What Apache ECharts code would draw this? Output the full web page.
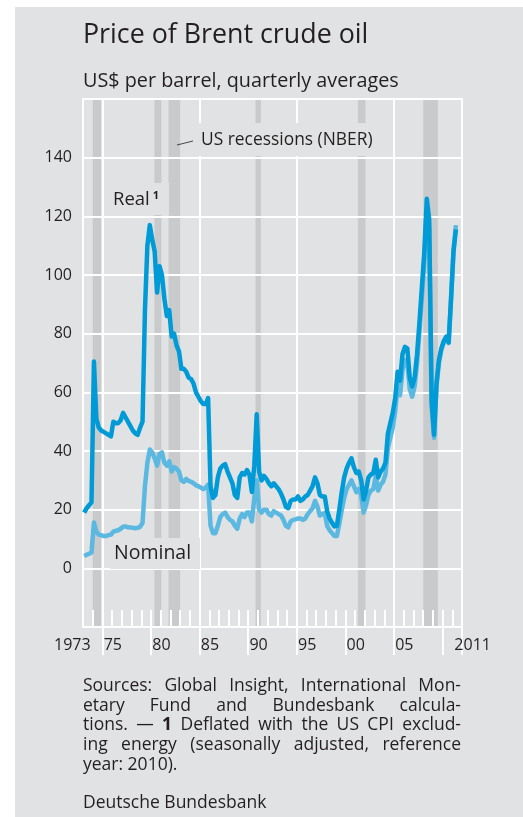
<!DOCTYPE html>
<html>
<head>
<meta charset="utf-8">
<script src="https://cdn.jsdelivr.net/npm/echarts@6/dist/echarts.min.js"></script>
<style>
  html, body { margin: 0; padding: 0; background: #fff; }
  #main { width: 523px; height: 817px; }
</style>
</head>
<body>
<div id="main"></div>
<script>
// quarterly averages, 1973 Q1 .. 2011 Q2
var startYear = 1973;

var realPrice = [
  19, 20.5, 21.5, 22.5,      // 1973
  70.5, 51, 48, 47,          // 1974
  46.5, 46, 45.5, 45,        // 1975
  50, 49.5, 49.5, 50.5,      // 1976
  53, 51.5, 50, 48.5,        // 1977
  47, 46, 45.5, 48,          // 1978
  50, 88, 110, 117,          // 1979
  112, 108, 94, 103,         // 1980
  100, 92, 86, 88,           // 1981
  79, 80, 76, 74,            // 1982
  68, 68, 67, 65,            // 1983
  64.5, 63, 60, 58.5,        // 1984
  57, 56, 56, 58,            // 1985
  28, 24, 25, 31,            // 1986
  34, 35, 35.5, 33,          // 1987
  31, 29, 25, 24,            // 1988
  31, 32.5, 32, 33.5,        // 1989
  32, 26, 35, 52.5,          // 1990
  33, 30, 31.5, 30.5,        // 1991
  29, 28, 29, 28,            // 1992
  27, 25.5, 23.5, 21,        // 1993
  20.5, 23, 23.5, 23.5,      // 1994
  24.5, 23, 23.5, 24.5,      // 1995
  25, 26.5, 28, 31,          // 1996
  29, 25, 24.5, 24.5,        // 1997
  19.5, 17, 15.5, 14.3,      // 1998
  14.5, 20, 26, 31,          // 1999
  34, 36, 37.5, 34.5,        // 2000
  32.5, 33, 30, 23.5,        // 2001
  26.5, 31, 32, 32.5,        // 2002
  37, 31, 33, 34,            // 2003
  36, 46, 49.5, 53,          // 2004
  58, 67, 64, 73,            // 2005
  75.5, 75, 65, 62,          // 2006
  65, 73, 84, 96,            // 2007
  108, 126, 119, 57,         // 2008
  45.5, 63, 71, 75,          // 2009
  77.5, 79, 77, 92,          // 2010
  108, 115.5                 // 2011
];

var nominalPrice = [
  4.2, 4.6, 5.0, 5.4,
  15.6, 12.5, 11.5, 11.3,
  11, 11, 11.3, 11.5,
  12.5, 12.8, 13, 13.5,
  14.2, 14.3, 14, 13.9,
  13.8, 13.7, 13.8, 14.2,
  15.5, 28, 36, 40.5,
  39.5, 37.5, 35, 39,
  39.5, 36, 35, 36.5,
  33, 34.5, 34, 33,
  30, 29.5, 30.5, 29.8,
  29.5, 29, 28.3, 28,
  27.5, 27, 27.5, 28.5,
  14.5, 12, 12, 14.5,
  17.5, 18.5, 19, 17.5,
  16.5, 16, 14.5, 13.5,
  17, 18.5, 17.5, 19,
  19, 16, 24, 30,
  20, 19, 20, 20,
  18.5, 18, 19.5, 19,
  18.5, 18, 16.5, 14.5,
  14, 16, 16.5, 16.7,
  17, 17, 16.5, 17,
  18.5, 19.5, 20.5, 23,
  21, 18, 18.5, 18.8,
  14.5, 13, 12, 11,
  11, 15.2, 19.8, 24,
  27, 28.5, 30, 28,
  26, 27, 25, 19,
  21.5, 25, 26.5, 27,
  31.5, 26.5, 28.5, 29.5,
  32, 41, 44.5, 48,
  53.5, 62, 59, 67.5,
  71, 70.5, 61, 58.5,
  62, 70, 81, 92.5,
  105, 122.5, 116, 55.5,
  44.5, 62, 70, 74.5,
  77, 78.5, 76.8, 92,
  108.5, 117
];

// US recessions (NBER), as shaded in the chart (decimal years)
var recessions = [
  [1974.0, 1974.85],
  [1980.35, 1981.07],
  [1981.8, 1983.0],
  [1990.75, 1991.3],
  [2001.28, 2002.07],
  [2008.01, 2009.51]
];

var years = [];
for (var y = 1973; y <= 2011; y++) years.push(String(y));

var FONT = '"Open Sans", sans-serif';
var BG = '#e1e2e4';
var BAND = '#c9cacc';
var WHITE = '#ffffff';
var TEXT = '#231f20';
var REAL_COLOR = '#009bd6';
var NOMINAL_COLOR = '#5ab8e1';

function toPoints(arr) {
  return arr.map(function (v, i) {
    return [startYear + i / 4 + 0.125, v];
  });
}

function showYearLabel(i, v) {
  var y = +v;
  return y === 1973 || y === 2011 || (y % 5 === 0 && y !== 2010);
}

function labelFormatter(value) {
  var y = +value;
  if (y === 1973) return '{l|1973}';
  if (y === 2011) return '{r|2011}';
  return '{m|' + String(y).slice(2) + '}';
}

// justified footnote, word by word
var measureCtx = document.createElement('canvas').getContext('2d');
var NOTE_SIZE = 17.5;
function wordWidth(w) {
  measureCtx.font = (w.bold ? 'bold ' : '') + NOTE_SIZE + 'px ' + FONT;
  return measureCtx.measureText(w.t).width;
}
var noteLines = [
  { words: 'Sources: Global Insight, International Mon-', justify: true },
  { words: 'etary Fund and Bundesbank calcula-', justify: true },
  { words: 'tions. — *1 Deflated with the US CPI exclud-', justify: true },
  { words: 'ing energy (seasonally adjusted, reference', justify: true },
  { words: 'year: 2010).', justify: false }
];
function noteElements(x0, x1, yTop, lineH) {
  var els = [];
  noteLines.forEach(function (line, li) {
    var words = line.words.split(' ').map(function (s) {
      return s.charAt(0) === '*' ? { t: s.slice(1), bold: true } : { t: s, bold: false };
    });
    var total = 0;
    words.forEach(function (w) { w.w = wordWidth(w); total += w.w; });
    var gap = line.justify ? (x1 - x0 - total) / (words.length - 1) : wordWidth({ t: ' ' });
    var x = x0;
    words.forEach(function (w) {
      els.push({
        type: 'text', x: x, y: yTop + li * lineH, z: 10,
        style: { text: w.t, fill: TEXT, fontFamily: FONT, fontSize: NOTE_SIZE,
                 fontWeight: w.bold ? 'bold' : 'normal', verticalAlign: 'middle' }
      });
      x += w.w + gap;
    });
  });
  return els;
}

var chart = echarts.init(document.getElementById('main'));

var graphics = [
  // white page margins
  { type: 'rect', shape: { x: 0, y: 0, width: 15, height: 817 }, style: { fill: WHITE }, z: 10 },
  { type: 'rect', shape: { x: 0, y: 0, width: 523, height: 7 }, style: { fill: WHITE }, z: 10 },
  { type: 'text', x: 83, y: 35, z: 10,
    style: { text: 'Price of Brent crude oil', fill: TEXT, fontFamily: FONT, fontSize: 26.8, verticalAlign: 'middle' } },
  { type: 'text', x: 83, y: 81, z: 10,
    style: { text: 'US$ per barrel, quarterly averages', fill: TEXT, fontFamily: FONT, fontSize: 19.8, verticalAlign: 'middle' } },
  // label boxes cutting the grid
  { type: 'rect', shape: { x: 110, y: 183, width: 59, height: 32 }, style: { fill: BG }, z: 4 },
  { type: 'text', x: 113, y: 200, z: 5,
    style: { text: 'Real{s|1}', fill: TEXT, fontFamily: FONT, fontSize: 18.5, verticalAlign: 'middle',
             rich: { s: { fontSize: 11, fontWeight: 'bold', fill: TEXT, fontFamily: FONT, verticalAlign: 'top', padding: [0, 0, 8, 3] } } } },
  { type: 'rect', shape: { x: 110, y: 538, width: 90, height: 31 }, style: { fill: BG }, z: 4 },
  { type: 'text', x: 114, y: 553, z: 5,
    style: { text: 'Nominal', fill: TEXT, fontFamily: FONT, fontSize: 19.5, verticalAlign: 'middle' } },
  { type: 'rect', shape: { x: 196, y: 123, width: 182, height: 33 }, style: { fill: BG }, z: 4 },
  { type: 'text', x: 201, y: 140, z: 5,
    style: { text: 'US recessions (NBER)', fill: TEXT, fontFamily: FONT, fontSize: 17.4, verticalAlign: 'middle' } },
  { type: 'line', shape: { x1: 177, y1: 145, x2: 193, y2: 141 }, style: { stroke: TEXT, lineWidth: 0.8 }, z: 5 },
  { type: 'text', x: 83, y: 803, z: 10,
    style: { text: 'Deutsche Bundesbank', fill: TEXT, fontFamily: FONT, fontSize: NOTE_SIZE, verticalAlign: 'middle' } }
].concat(noteElements(83, 461, 686, 19.7));

var option = {
  animation: false,
  backgroundColor: BG,
  textStyle: { fontFamily: FONT },
  grid: { left: 83, right: 61, top: 99, bottom: 190, show: false },
  xAxis: [
    { type: 'value', min: 1973, max: 2012, show: false },
    {
      type: 'category', data: years, boundaryGap: true, position: 'bottom', z: 3,
      axisLine: { show: true, onZero: false, lineStyle: { color: WHITE, width: 2 } },
      axisTick: { show: true, inside: true, length: 17, interval: 0, lineStyle: { color: WHITE, width: 2 } },
      axisLabel: {
        interval: showYearLabel, showMaxLabel: true, hideOverlap: false,
        formatter: labelFormatter, margin: 10, color: TEXT, fontSize: 16, fontFamily: FONT,
        rich: {
          l: { padding: [0, 31, 0, 0], fontSize: 16, color: TEXT, fontFamily: FONT },
          m: { padding: [0, 0, 0, 11], fontSize: 16, color: TEXT, fontFamily: FONT },
          r: { padding: [0, 0, 0, 31], fontSize: 16, color: TEXT, fontFamily: FONT }
        }
      },
      splitLine: {
        show: true,
        interval: function (i, v) { var y = +v; return y >= 1975 && (y - 1975) % 10 === 0; },
        lineStyle: { color: WHITE, width: 2 }
      }
    },
    {
      type: 'category', data: years, boundaryGap: true, position: 'bottom', z: 3,
      axisLine: { show: false, onZero: false },
      axisTick: {
        show: true, length: 28,
        interval: function (i, v) { return (+v) % 5 === 0; },
        lineStyle: { color: WHITE, width: 2 }
      },
      axisLabel: { show: false },
      splitLine: { show: false }
    }
  ],
  yAxis: [
    {
      type: 'value', min: -20, max: 160, interval: 20, z: 3,
      axisLine: { show: true, lineStyle: { color: WHITE, width: 2 } },
      axisTick: { show: false },
      axisLabel: {
        formatter: function (v) { return (v >= 0 && v <= 140) ? String(v) : ''; },
        color: TEXT, fontSize: 16, fontFamily: FONT, margin: 11
      },
      splitLine: { lineStyle: { color: WHITE, width: 2 } }
    },
    {
      type: 'value', min: -20, max: 160, interval: 20, position: 'right', z: 3,
      axisLine: { show: true, lineStyle: { color: WHITE, width: 2 } },
      axisTick: { show: false }, axisLabel: { show: false }, splitLine: { show: false }
    }
  ],
  series: [
    {
      name: 'recessions', type: 'line', xAxisIndex: 0, yAxisIndex: 0, data: [], z: 1,
      markArea: {
        silent: true,
        itemStyle: { color: BAND },
        data: recessions.map(function (r) { return [{ xAxis: r[0] }, { xAxis: r[1] }]; })
      }
    },
    {
      name: 'Nominal', type: 'line', xAxisIndex: 0, yAxisIndex: 0, z: 5,
      data: toPoints(nominalPrice), showSymbol: false, symbol: 'none',
      lineStyle: { color: NOMINAL_COLOR, width: 4.5, join: 'round' }
    },
    {
      name: 'Real', type: 'line', xAxisIndex: 0, yAxisIndex: 0, z: 6,
      data: toPoints(realPrice), showSymbol: false, symbol: 'none',
      lineStyle: { color: REAL_COLOR, width: 4.5, join: 'round' }
    }
  ],
  graphic: { elements: graphics }
};

chart.setOption(option);
</script>
</body>
</html>
